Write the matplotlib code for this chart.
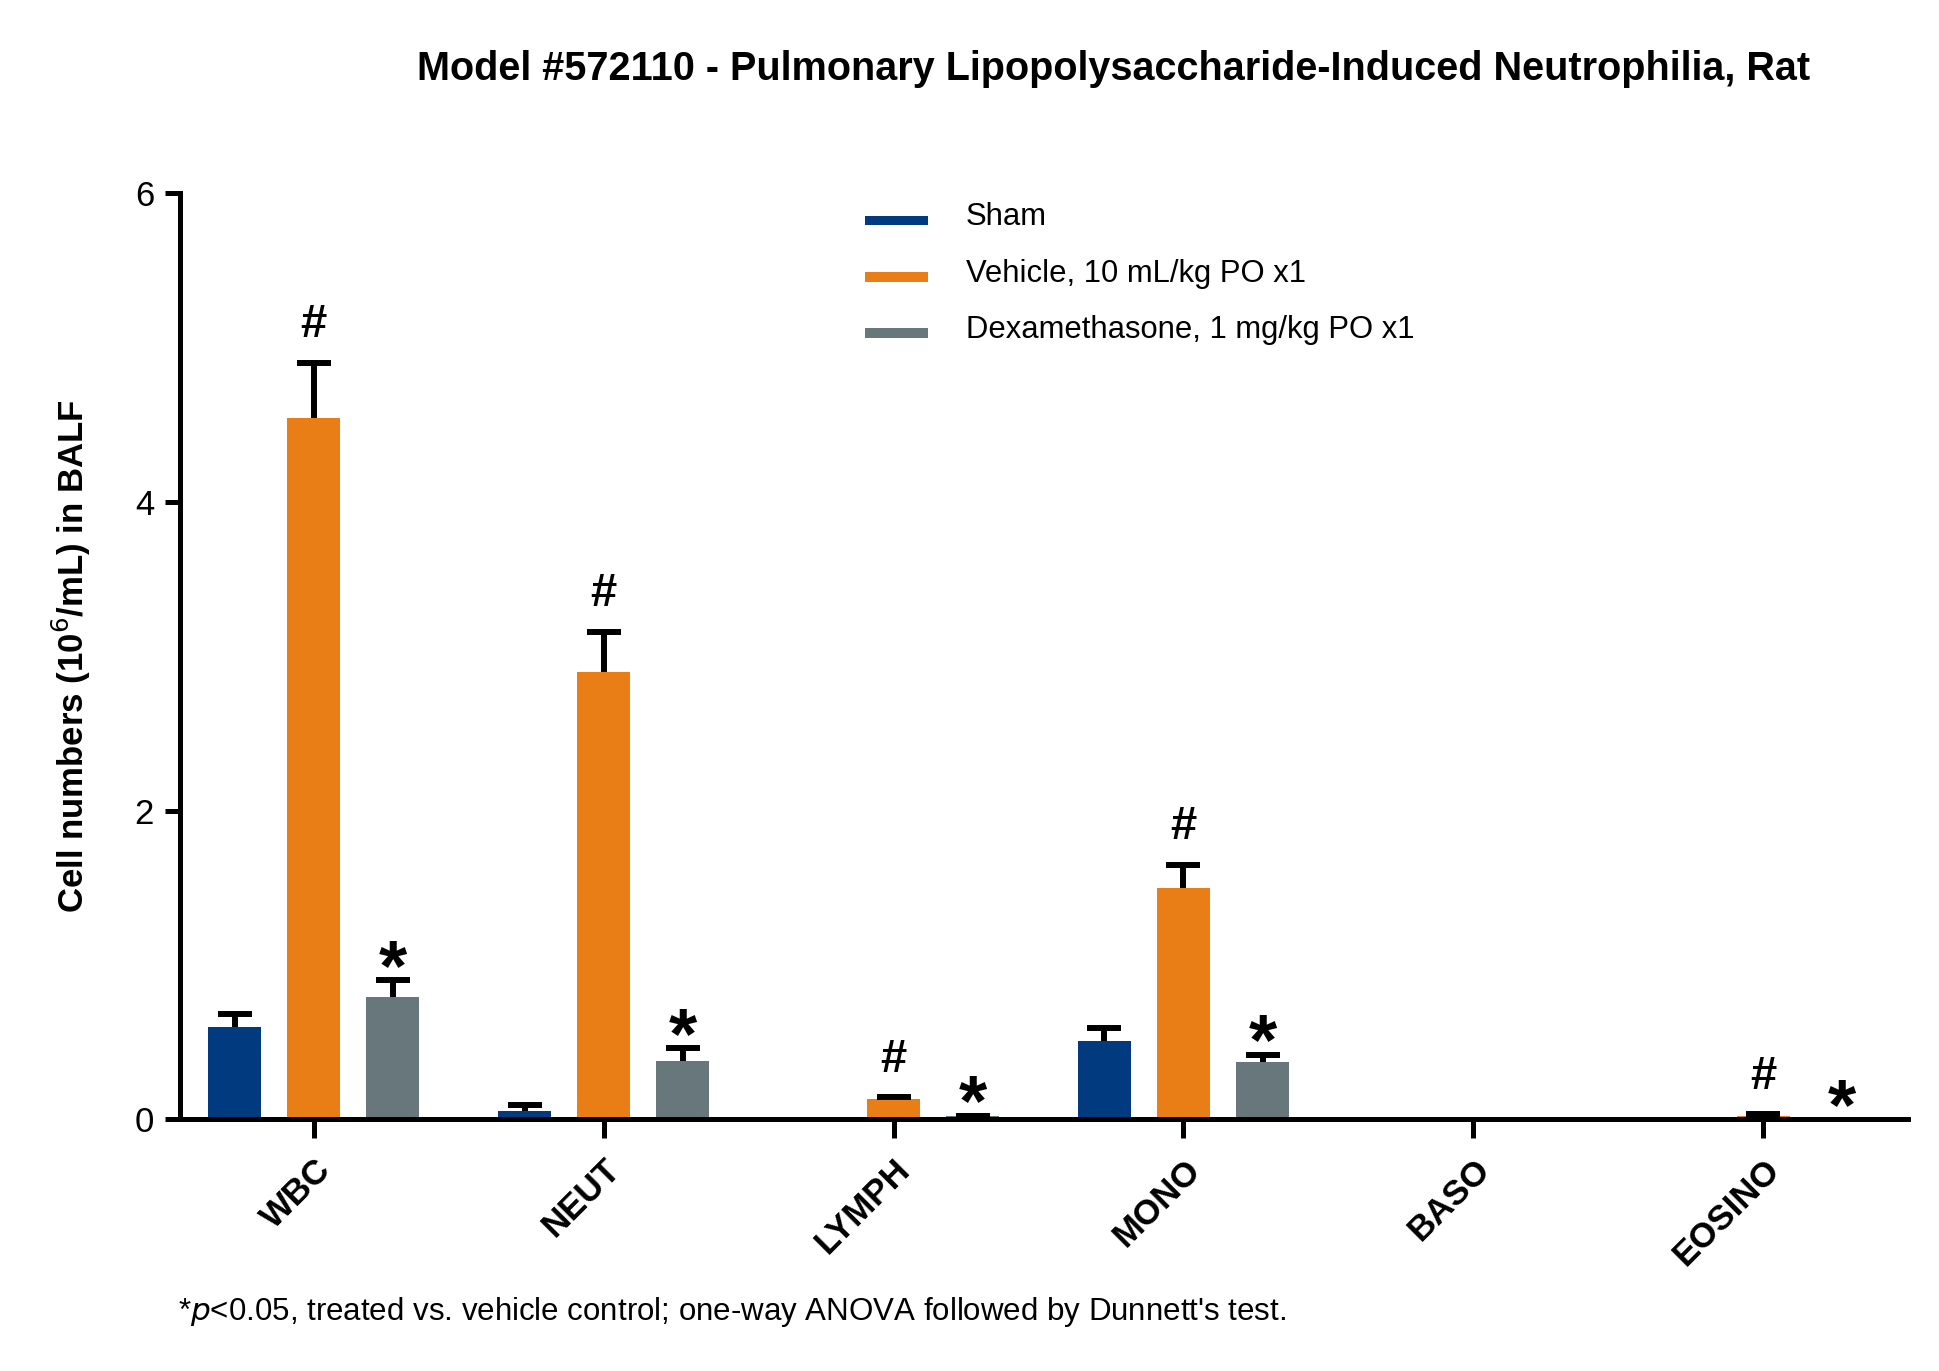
import matplotlib
matplotlib.use("Agg")
import numpy as np
import matplotlib.pyplot as plt

# данные
categories = ["WBC", "NEUT", "LYMPH", "MONO", "BASO", "EOSINO"]
groups = ["Sham", "Vehicle, 10 mL/kg PO x1", "Dexamethasone, 1 mg/kg PO x1"]
sham = [0.60, 0.056, 0.005, 0.51, 0.0, 0.0]
sham_err = [0.08, 0.035, 0.0, 0.08, 0.0, 0.0]
vehicle = [4.54, 2.90, 0.13, 1.50, 0.0, 0.02]
vehicle_err = [0.36, 0.26, 0.012, 0.15, 0.0, 0.012]
dexa = [0.79, 0.38, 0.02, 0.37, 0.0, 0.0]
dexa_err = [0.11, 0.08, 0.005, 0.05, 0.0, 0.0]
hash_marks = ["#", "#", "#", "#", "", "#"]
star_marks = ["*", "*", "*", "*", "", "*"]

colors = ["#023A80", "#E97D16", "#67777C"]

plt.rcParams["font.family"] = ["Liberation Sans", "DejaVu Sans"]

fig = plt.figure(figsize=(19.4, 13.71), dpi=100)
ax = fig.add_axes([0.093, 0.1835, 0.8906, 0.6757])

x = np.arange(len(categories))
width = 0.183
offsets = [-0.273, 0.0, 0.273]
series = [(sham, sham_err), (vehicle, vehicle_err), (dexa, dexa_err)]

for i, (vals, errs) in enumerate(series):
    pos = x + offsets[i]
    vals = np.array(vals)
    errs = np.array(errs)
    ax.bar(pos, vals, width, color=colors[i], label=groups[i], zorder=2)
    m = errs > 0
    _, caps, _ = ax.errorbar(pos[m], vals[m], yerr=[np.zeros(m.sum()), errs[m]], fmt="none",
                             ecolor="black", elinewidth=4.3, capsize=12, capthick=4.3, zorder=3)
    # только верхняя "шапка", как в GraphPad
    caps[0].remove()

# значки значимости
for i in range(len(categories)):
    if hash_marks[i]:
        ax.annotate(hash_marks[i], (x[i] + offsets[1], vehicle[i] + vehicle_err[i]),
                    xytext=(0, 27), textcoords="offset points", ha="center", va="center",
                    fontsize=34, fontweight="bold")
    if star_marks[i]:
        ax.annotate(star_marks[i], (x[i] + offsets[2], dexa[i] + dexa_err[i]),
                    xytext=(0, -7), textcoords="offset points", ha="center", va="baseline",
                    fontsize=52, fontweight="bold")

ax.set_xlim(-0.46, 5.5)
ax.set_ylim(0, 6)
ax.set_yticks([0, 2, 4, 6])
ax.set_xticks(x)
ax.set_xticklabels(categories, rotation=45, ha="right", rotation_mode="anchor",
                   fontsize=25, fontweight="bold")
ax.tick_params(axis="y", labelsize=25, width=3.6, length=11, pad=8)
ax.tick_params(axis="x", width=3.6, length=14, pad=10)

for s in ["top", "right"]:
    ax.spines[s].set_visible(False)
for s in ["left", "bottom"]:
    ax.spines[s].set_linewidth(3.6)

ax.set_ylabel("Cell numbers (10$^{6}$/mL) in BALF", fontsize=25, fontweight="bold",
              labelpad=30)

fig.text(0.574, 0.950, "Model #572110 - Pulmonary Lipopolysaccharide-Induced Neutrophilia, Rat",
         ha="center", va="center", fontsize=28.5, fontweight="bold")

leg = ax.legend(loc="upper left", bbox_to_anchor=(0.38, 1.02), frameon=False,
                fontsize=22.3, handlelength=2.05, handletextpad=1.2, labelspacing=0.85)
for h in leg.legend_handles:
    h.set_height(7)

fig.text(0.092, 0.043, r"*$\it{p}$<0.05, treated vs. vehicle control; one-way ANOVA followed by Dunnett's test.",
         ha="left", va="center", fontsize=22.5)

fig.savefig("out.png", dpi=100)
